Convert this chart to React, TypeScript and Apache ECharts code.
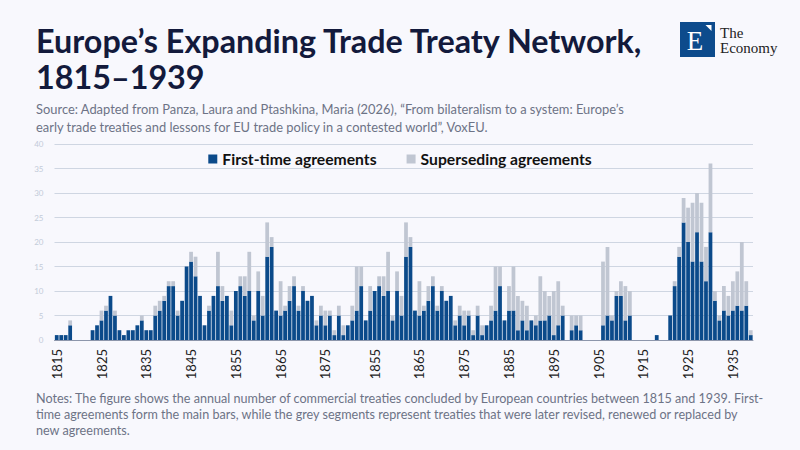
import React, { useEffect, useRef } from "react";
import * as echarts from "echarts";

// Annual counts by year, 1815–1939 (index 0 = 1815)
const startYear = 1815;
const firstTime = [
  1, 1, 1, 3, 0, 0, 0, 0, 2, 3,
  4, 6, 9, 5, 2, 1, 2, 2, 3, 4,
  2, 2, 5, 6, 8, 11, 11, 5, 8, 15,
  16, 13, 9, 3, 6, 9, 11, 8, 9, 3,
  10, 11, 9, 10, 4, 10, 5, 17, 19, 6,
  5, 6, 8, 11, 6, 10, 8, 9, 3, 5,
  3, 5, 1, 5, 1, 3, 4, 6, 11, 4,
  6, 6, 2, 4, 2, 4, 3, 4, 4, 5,
  1, 3, 5, 0, 2, 3, 2, 0, 0, 0,
  0, 3, 5, 4, 9, 9, 4, 5, 0, 0,
  0, 0, 0, 1, 0, 0, 5, 11, 17, 24,
  20, 16, 22, 16, 12, 22, 8, 4, 6, 5,
  6, 7, 6, 7, 1,
];
const superseding = [
  0, 0, 0, 1, 0, 0, 0, 0, 0, 0,
  2, 1, 0, 1, 0, 0, 0, 0, 0, 1,
  0, 0, 2, 2, 1, 1, 1, 1, 0, 0,
  2, 4, 0, 0, 1, 0, 7, 3, 0, 3,
  0, 2, 4, 8, 1, 4, 4, 7, 2, 0,
  7, 1, 3, 2, 1, 1, 0, 0, 1, 2,
  3, 1, 1, 2, 2, 0, 3, 9, 4, 0,
  5, 9, 7, 4, 5, 0, 2, 9, 6, 4,
  9, 9, 2, 0, 3, 2, 3, 0, 0, 0,
  0, 13, 14, 1, 1, 3, 7, 5, 0, 0,
  0, 0, 0, 0, 0, 0, 0, 1, 2, 5,
  7, 12, 8, 12, 7, 14, 2, 1, 5, 4,
  6, 7, 14, 5, 1,
];

// The published axis runs 1815–1885 and then restarts at 1855 through 1939
const segments = [
  [1815, 1885],
  [1855, 1939],
];
const categories: string[] = [];
segments.forEach(([a, b]) => {
  for (let y = a; y <= b; y++) categories.push(String(y));
});

const yTicks = { min: 0, max: 40, interval: 5 };

const titleLines = ["Europe’s Expanding Trade Treaty Network,", "1815–1939"];
const sourceLines = [
  "Source: Adapted from Panza, Laura and Ptashkina, Maria (2026), “From bilateralism to a system: Europe’s",
  "early trade treaties and lessons for EU trade policy in a contested world”, VoxEU.",
];
const noteLines = [
  "Notes: The figure shows the annual number of commercial treaties concluded by European countries between 1815 and 1939. First-",
  "time agreements form the main bars, while the grey segments represent treaties that were later revised, renewed or replaced by",
  "new agreements.",
];

const BLUE = "#0b4a8a";
const GREY = "#c0c6d2";
const FONT = "Lato, 'Noto Sans', sans-serif";

export default function App() {
  const ref = useRef<HTMLDivElement>(null);
  useEffect(() => {
    document.body.style.margin = "0";
    const chart = echarts.init(ref.current!, null, { renderer: "svg" });
    const n = categories.length;
    const isLabel = (i: number) => {
      const y = +categories[i];
      if (y % 10 !== 5) return false;
      if (i + 1 < n && +categories[i + 1] % 10 === 5) return false;
      return true;
    };
    const graphic: any[] = [];
    titleLines.forEach((t, i) => {
      graphic.push({
        type: "text",
        x: 36,
        y: 40 + i * 36,
        style: {
          text: t,
          fill: "#131a3c",
          font: `bold 32.3px ${FONT}`,
          verticalAlign: "middle",
        },
      });
    });
    sourceLines.forEach((t, i) => {
      graphic.push({
        type: "text",
        x: 36,
        y: 109 + i * 17.5,
        style: { text: t, fill: "#6d7386", font: `12.9px ${FONT}`, verticalAlign: "middle" },
      });
    });
    noteLines.forEach((t, i) => {
      graphic.push({
        type: "text",
        x: 36,
        y: 398 + i * 16,
        style: { text: t, fill: "#6d7386", font: `12.6px ${FONT}`, verticalAlign: "middle" },
      });
    });
    // logo
    graphic.push(
      { type: "rect", shape: { x: 680, y: 22, width: 35, height: 35 }, style: { fill: "#0d4b8c" } },
      {
        type: "text",
        x: 695,
        y: 41,
        style: {
          text: "E",
          fill: "#ffffff",
          font: "27px 'Liberation Serif', serif",
          align: "center",
          verticalAlign: "middle",
        },
      },
      {
        type: "polygon",
        shape: { points: [[705.5, 25], [711.5, 25], [711.5, 31]] },
        style: { fill: "#ffffff" },
      },
      {
        type: "text",
        x: 720,
        y: 26,
        style: {
          text: "The\nEconomy",
          fill: "#222",
          font: "15px 'Liberation Serif', serif",
          lineHeight: 14.5,
          verticalAlign: "top",
        },
      }
    );

    chart.setOption({
      animation: false,
      backgroundColor: "#f8f8fd",
      textStyle: { fontFamily: FONT },
      graphic,
      legend: {
        top: 146,
        left: "center",
        itemWidth: 9,
        itemHeight: 9,
        itemGap: 30,
        icon: "rect",
        textStyle: { fontSize: 15.7, fontWeight: "bold", color: "#111", fontFamily: FONT },
        data: ["First-time agreements", "Superseding agreements"],
      },
      grid: { left: 54.5, right: 47, top: 144, bottom: 110, containLabel: false },
      xAxis: {
        type: "category",
        data: categories,
        axisLine: { lineStyle: { color: "#8d96ab", width: 1 } },
        axisTick: { show: false },
        axisLabel: {
          rotate: 90,
          interval: (i: number) => isLabel(i),
          color: "#1c1c1c",
          fontSize: 13,
          fontFamily: FONT,
          margin: 9,
        },
      },
      yAxis: {
        type: "value",
        min: yTicks.min,
        max: yTicks.max,
        interval: yTicks.interval,
        axisLine: { show: false },
        axisTick: { show: false },
        splitLine: { lineStyle: { color: "#cfd6e2", width: 1 } },
        axisLabel: { color: "#c3cbd9", fontSize: 8, margin: 11, fontFamily: FONT },
      },
      series: [
        {
          name: "First-time agreements",
          type: "bar",
          stack: "total",
          barCategoryGap: "16%",
          itemStyle: { color: BLUE },
          data: categories.map((c) => firstTime[+c - startYear]),
        },
        {
          name: "Superseding agreements",
          type: "bar",
          stack: "total",
          barCategoryGap: "16%",
          itemStyle: { color: GREY },
          data: categories.map((c) => superseding[+c - startYear]),
        },
      ],
    });
    return () => chart.dispose();
  }, []);
  return <div ref={ref} style={{ position: "fixed", left: 0, top: 0, width: 800, height: 450 }} />;
}
